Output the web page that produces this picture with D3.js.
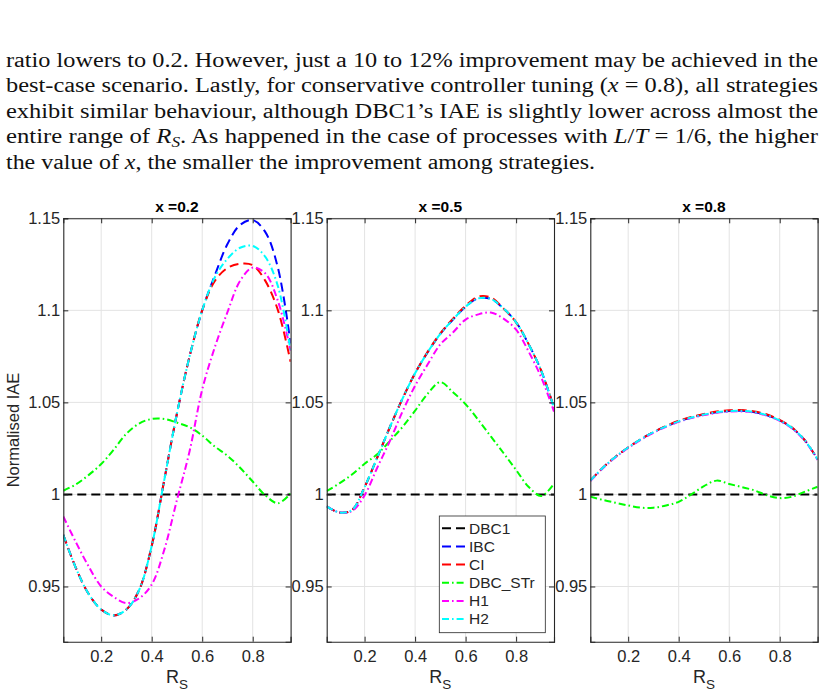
<!DOCTYPE html>
<html>
<head>
<meta charset="utf-8">
<script src="https://cdn.jsdelivr.net/npm/d3@7"></script>
<style>
  html, body { margin: 0; padding: 0; background: #fff; }
  svg { display: block; }
</style>
</head>
<body>
<script>
// ---------------- DATA ----------------
const rs = [0.05,0.10,0.15,0.20,0.25,0.30,0.35,0.40,0.45,0.50,0.55,0.60,0.65,0.70,0.75,0.80,0.85,0.90,0.95];

const panelTitles = ["x =0.2", "x =0.5", "x =0.8"];
const seriesNames = ["DBC1", "IBC", "CI", "DBC_STr", "H1", "H2"];
const yTicks = [0.95, 1, 1.05, 1.1, 1.15];
const yTickLabels = ["0.95", "1", "1.05", "1.1", "1.15"];
const xTicks = [0.2, 0.4, 0.6, 0.8];
const xTickLabels = ["0.2", "0.4", "0.6", "0.8"];

// x = 0.2
const dbc1_02   = [1,1,1,1,1,1,1,1,1,1,1,1,1,1,1,1,1,1,1];
const ibc_02    = [0.978,0.960,0.946,0.9375,0.9343,0.9375,0.948,0.972,1.008,1.044,1.075,1.100,1.119,1.136,1.1464,1.149,1.1425,1.123,1.082];
const ci_02     = [0.978,0.960,0.946,0.9375,0.9343,0.9375,0.948,0.972,1.008,1.044,1.075,1.100,1.116,1.123,1.1253,1.1245,1.116,1.100,1.072];
const dbcstr_02 = [1.002,1.0055,1.0105,1.0165,1.0244,1.033,1.0385,1.041,1.041,1.039,1.0365,1.032,1.026,1.021,1.0145,1.007,0.9995,0.9952,1.0006];
const h1_02     = [0.988,0.974,0.961,0.950,0.9443,0.941,0.9435,0.951,0.970,0.997,1.0235,1.057,1.080,1.099,1.116,1.1232,1.120,1.105,1.078];
const h2_02     = [0.978,0.960,0.946,0.9375,0.9343,0.9375,0.948,0.972,1.008,1.044,1.075,1.100,1.118,1.128,1.134,1.135,1.129,1.113,1.078];

// x = 0.5
const dbc1_05   = [1,1,1,1,1,1,1,1,1,1,1,1,1,1,1,1,1,1,1];
const ibc_05    = [0.9935,0.9902,0.9915,1.004,1.020,1.0365,1.052,1.0658,1.0773,1.0872,1.095,1.102,1.1065,1.1062,1.101,1.0935,1.0815,1.067,1.047];
const ci_05     = [0.9935,0.9902,0.9915,1.004,1.020,1.0365,1.052,1.0658,1.0775,1.0875,1.0955,1.1025,1.1075,1.107,1.101,1.0935,1.0815,1.067,1.047];
const dbcstr_05 = [1.0018,1.006,1.0108,1.0167,1.0218,1.029,1.0366,1.0455,1.0547,1.061,1.0555,1.049,1.0405,1.0315,1.0225,1.0133,1.004,0.9992,1.0058];
const h1_05     = [0.9935,0.9902,0.991,0.9995,1.0145,1.029,1.045,1.059,1.0707,1.0815,1.088,1.095,1.0978,1.0988,1.0955,1.0895,1.0775,1.0634,1.045];
const h2_05     = [0.9935,0.9902,0.9915,1.004,1.020,1.0365,1.052,1.0658,1.0773,1.0872,1.095,1.102,1.1065,1.1062,1.101,1.0935,1.0815,1.067,1.047];

// x = 0.8
const dbc1_08   = [1,1,1,1,1,1,1,1,1,1,1,1,1,1,1,1,1,1,1];
const ibc_08    = [1.0075,1.0145,1.0205,1.0255,1.030,1.0338,1.037,1.0397,1.0418,1.0434,1.0446,1.0453,1.0454,1.0447,1.0430,1.0402,1.0360,1.0293,1.0190];
const ci_08     = [1.0075,1.0145,1.0205,1.0255,1.030,1.0338,1.0372,1.0400,1.0421,1.0437,1.0450,1.0457,1.0458,1.0451,1.0434,1.0405,1.0362,1.0293,1.0190];
const dbcstr_08 = [0.9988,0.997,0.9955,0.994,0.9928,0.9928,0.994,0.996,1.0,1.0045,1.0075,1.0057,1.004,1.0022,0.9995,0.998,0.9988,1.0015,1.0042];
const h1_08     = [1.0072,1.0142,1.0202,1.0252,1.0297,1.0335,1.0367,1.0394,1.0415,1.0431,1.0443,1.0450,1.0451,1.0444,1.0427,1.0399,1.0357,1.0290,1.0187];
const h2_08     = [1.0075,1.0145,1.0205,1.0255,1.030,1.0338,1.037,1.0397,1.0418,1.0434,1.0446,1.0453,1.0454,1.0447,1.0430,1.0402,1.0360,1.0293,1.0190];

const panelSeries = [
  [dbc1_02, ibc_02, ci_02, dbcstr_02, h1_02, h2_02],
  [dbc1_05, ibc_05, ci_05, dbcstr_05, h1_05, h2_05],
  [dbc1_08, ibc_08, ci_08, dbcstr_08, h1_08, h2_08]
];

// ---------------- STYLE ----------------
const seriesColors = ["#000000", "#0000ff", "#ff0000", "#00ff00", "#ff00ff", "#00ffff"];
const DASH = "9,5";
const DASHDOT = "7,3,1.6,3";
const seriesDash = [DASH, DASH, DASH, DASHDOT, DASHDOT, DASHDOT];

const W = 825, H = 698;
const panelLefts = [63.3, 326.7, 590.3];
const panelW = 227.3;
const plotTop = 218.3, plotBottom = 641.7;
const axisColor = "#262626";
const font = "'Liberation Sans', Arial, Helvetica, sans-serif";
const serif = "'Liberation Serif', 'Times New Roman', serif";

const svg = d3.select("body").append("svg").attr("width", W).attr("height", H)
  .attr("font-family", font);

// ---------------- PARAGRAPH ----------------
const para = [
  { len: 812, segs: [["ratio lowers to 0.2. However, just a 10 to 12% improvement may be achieved in the", "n"]] },
  { len: 812, segs: [["best-case scenario. Lastly, for conservative controller tuning (", "n"], ["x", "i"], [" = 0.8), all strategies", "n"]] },
  { len: 812, segs: [["exhibit similar behaviour, although DBC1\u2019s IAE is slightly lower across almost the", "n"]] },
  { len: 812, segs: [["entire range of ", "n"], ["R", "i"], ["S", "sub"], [". As happened in the case of processes with ", "n"], ["L", "i"], ["/", "n"], ["T", "i"], [" = 1/6, the higher", "n"]] },
  { len: 589, segs: [["the value of ", "n"], ["x", "i"], [", the smaller the improvement among strategies.", "n"]] }
];
const baselines = [66.7, 92.2, 117.7, 143.2, 168.7];
para.forEach((ln, i) => {
  const t = svg.append("text")
    .attr("x", 6).attr("y", baselines[i])
    .attr("font-family", serif).attr("font-size", 20).attr("fill", "#111")
    .attr("textLength", ln.len).attr("lengthAdjust", "spacingAndGlyphs");
  let shifted = false;
  ln.segs.forEach(([txt, st]) => {
    const ts = t.append("tspan").text(txt);
    if (st === "i") ts.attr("font-style", "italic");
    if (st === "sub") { ts.attr("font-style", "italic").attr("font-size", 14).attr("dy", 4); shifted = true; }
    else if (shifted) { ts.attr("dy", -4); shifted = false; }
  });
});

// ---------------- PANELS ----------------
const y = d3.scaleLinear().domain([0.92, 1.15]).range([plotBottom, plotTop]);

panelSeries.forEach((series, p) => {
  const left = panelLefts[p];
  const x = d3.scaleLinear().domain([0.05, 0.95]).range([left, left + panelW]);
  const g = svg.append("g");

  g.append("rect").attr("x", left).attr("y", plotTop).attr("width", panelW).attr("height", plotBottom - plotTop)
    .attr("fill", "#fff");

  // grid
  const grid = g.append("g").attr("stroke", "#e3e3e3").attr("stroke-width", 1);
  grid.selectAll("line.gx").data(xTicks).join("line").attr("class", "gx")
    .attr("x1", d => x(d)).attr("x2", d => x(d)).attr("y1", plotTop).attr("y2", plotBottom);
  grid.selectAll("line.gy").data(yTicks).join("line").attr("class", "gy")
    .attr("x1", left).attr("x2", left + panelW).attr("y1", d => y(d)).attr("y2", d => y(d));

  // clip
  const clipId = "clip" + p;
  svg.append("clipPath").attr("id", clipId).append("rect")
    .attr("x", left).attr("y", plotTop).attr("width", panelW).attr("height", plotBottom - plotTop);

  const line = d3.line().x((d, i) => x(rs[i])).y(d => y(d)).curve(d3.curveCatmullRom.alpha(0.5));
  const lg = g.append("g").attr("clip-path", `url(#${clipId})`);
  series.forEach((vals, s) => {
    lg.append("path").attr("d", line(vals))
      .attr("fill", "none").attr("stroke", seriesColors[s]).attr("stroke-width", 2)
      .attr("stroke-dasharray", seriesDash[s]);
  });

  // axes
  const fmtX = (d, i) => xTickLabels[i];
  const fmtY = (d, i) => yTickLabels[i];
  const ax = g.append("g").attr("transform", `translate(0,${plotBottom})`)
    .call(d3.axisBottom(x).tickValues(xTicks).tickFormat(fmtX).tickSize(-5).tickPadding(9));
  const ay = g.append("g").attr("transform", `translate(${left},0)`)
    .call(d3.axisLeft(y).tickValues(yTicks).tickFormat(fmtY).tickSize(-5).tickPadding(3));
  const at = g.append("g").attr("transform", `translate(0,${plotTop})`)
    .call(d3.axisTop(x).tickValues(xTicks).tickFormat("").tickSize(-5));
  const ar = g.append("g").attr("transform", `translate(${left + panelW},0)`)
    .call(d3.axisRight(y).tickValues(yTicks).tickFormat("").tickSize(-5));
  [ax, ay, at, ar].forEach(a => {
    a.select(".domain").attr("stroke", axisColor).attr("stroke-width", 1.1);
    a.selectAll(".tick line").attr("stroke", axisColor).attr("stroke-width", 1);
    a.selectAll(".tick text").attr("fill", axisColor).attr("font-size", 16.5).attr("font-family", font);
  });

  // title
  g.append("text").attr("x", left + panelW / 2).attr("y", 212)
    .attr("text-anchor", "middle").attr("font-weight", "bold").attr("font-size", 15.5)
    .attr("fill", "#000").text(panelTitles[p]);

  // x label R_S
  const xl = g.append("text").attr("x", left + panelW / 2).attr("y", 683)
    .attr("text-anchor", "middle").attr("font-size", 18).attr("fill", axisColor);
  xl.append("tspan").text("R");
  xl.append("tspan").text("S").attr("font-size", 13.5).attr("dy", 6);
});

// y label
svg.append("text").attr("transform", "translate(19,430) rotate(-90)")
  .attr("text-anchor", "middle").attr("font-size", 16.5).attr("fill", axisColor)
  .text("Normalised IAE");

// ---------------- LEGEND ----------------
const lgX = 439.3, lgY = 516, lgW = 106, lgH = 116.7;
const legend = svg.append("g");
legend.append("rect").attr("x", lgX).attr("y", lgY).attr("width", lgW).attr("height", lgH)
  .attr("fill", "#fff").attr("stroke", axisColor).attr("stroke-width", 0.8);
seriesNames.forEach((name, i) => {
  const cy = 528.3 + i * 18.15;
  legend.append("line").attr("x1", 442).attr("x2", 466.5).attr("y1", cy).attr("y2", cy)
    .attr("stroke", seriesColors[i]).attr("stroke-width", 2).attr("stroke-dasharray", seriesDash[i]);
  legend.append("text").attr("x", 469).attr("y", cy).attr("dy", "0.35em")
    .attr("font-size", 15.5).attr("fill", axisColor).text(name);
});
</script>
</body>
</html>
